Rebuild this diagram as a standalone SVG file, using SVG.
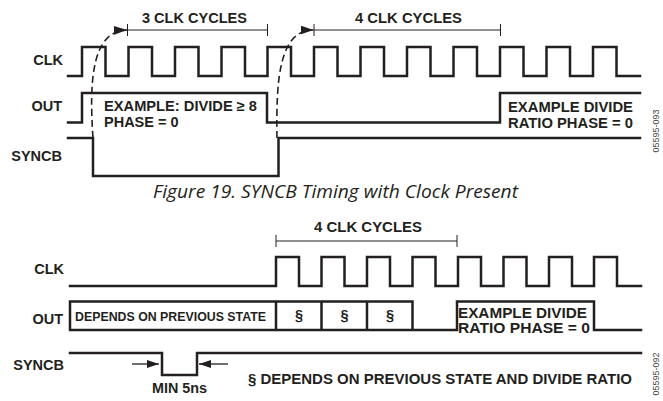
<svg xmlns="http://www.w3.org/2000/svg" width="663" height="401" viewBox="0 0 663 401">
<style>
.wave{fill:none;stroke:#231f20;stroke-width:2.5;stroke-linejoin:miter;stroke-linecap:square}
.brk{fill:none;stroke:#231f20;stroke-width:1}
.dash{fill:none;stroke:#231f20;stroke-width:1.6;stroke-dasharray:7,4}
.arr{fill:none;stroke:#231f20;stroke-width:1.3}
.t{font-family:"Liberation Sans",Arial,sans-serif;font-weight:bold;font-size:14.5px;fill:#231f20}
.cap{font-family:"Open Sans","Noto Sans",sans-serif;font-style:italic;font-size:17.5px;fill:#231f20}
.id{font-family:"Liberation Sans",Arial,sans-serif;font-size:9px;fill:#444}
</style>
<defs>
<marker id="ah" markerWidth="14" markerHeight="9" refX="13" refY="4.5" orient="auto" markerUnits="userSpaceOnUse">
<path d="M0,0 L13,4.5 L0,9 Z" fill="#231f20"/>
</marker>
<marker id="ah2" markerWidth="13" markerHeight="8" refX="12" refY="4" orient="auto" markerUnits="userSpaceOnUse">
<path d="M0,0 L12,4 L0,8 Z" fill="#231f20"/>
</marker>
</defs>

<g id="fig19">
<g id="top-clk">
<text class="t" x="63" y="65" text-anchor="end">CLK</text>
<path class="wave" d="M68,76 H82 V47 H105.5 V76 H128.5 V47 H152 V76 H175 V47 H198.5 V76 H221.5 V47 H245 V76 H267.5 V47 H291 V76 H314 V47 H337.5 V76 H360.5 V47 H384 V76 H407 V47 H430.5 V76 H453.5 V47 H477 V76 H500 V47 H523.5 V76 H546.5 V47 H570 V76 H593 V47 H616.5 V76 H640"/>
</g>
<g id="top-out">
<text class="t" x="62" y="111" text-anchor="end">OUT</text>
<path class="wave" d="M68,122.5 H82 V93 H267 V122.5 H500 V93 H640"/>
<text class="t" x="104" y="111" textLength="153" lengthAdjust="spacingAndGlyphs">EXAMPLE: DIVIDE ≥ 8</text>
<text class="t" x="104" y="127">PHASE = 0</text>
<text class="t" x="508" y="112" textLength="125" lengthAdjust="spacingAndGlyphs">EXAMPLE DIVIDE</text>
<text class="t" x="508" y="128" textLength="125" lengthAdjust="spacingAndGlyphs">RATIO PHASE = 0</text>
</g>
<g id="top-syncb">
<text class="t" x="62" y="161" text-anchor="end">SYNCB</text>
<path class="wave" d="M68,138 H93 V176 H278.5 V138 H640"/>
</g>
<g id="top-3clk">
<path class="brk" d="M127.5,30 H267.5 M127.5,24 V36 M267.5,24 V36"/>
<text class="t" x="142" y="23" textLength="105" lengthAdjust="spacingAndGlyphs">3 CLK CYCLES</text>
</g>
<g id="top-4clk">
<path class="brk" d="M314,30 H500.5 M314,24 V36 M500.5,24 V36"/>
<text class="t" x="355" y="23" textLength="107" lengthAdjust="spacingAndGlyphs">4 CLK CYCLES</text>
</g>
<g id="top-connectors">
<path class="dash" d="M93,138 C89,80 92,31 127,30" marker-end="url(#ah)"/>
<path class="dash" d="M277,138 C276,80 279,30 313.5,30" marker-end="url(#ah)"/>
</g>
<text class="id" transform="translate(659,131) rotate(-90)" text-anchor="middle">05595-093</text>
</g>

<text class="cap" x="153" y="198" textLength="365" lengthAdjust="spacingAndGlyphs">Figure 19. SYNCB Timing with Clock Present</text>

<g id="fig-bottom">
<g id="bot-4clk">
<path class="brk" d="M276,241 H457 M276,235 V247 M457,235 V247"/>
<text class="t" x="314" y="231.5" textLength="108" lengthAdjust="spacingAndGlyphs">4 CLK CYCLES</text>
</g>
<g id="bot-clk">
<text class="t" x="64" y="274" text-anchor="end">CLK</text>
<path class="wave" d="M70,286 H276 V257 H299 V286 H321.5 V257 H344.5 V286 H367 V257 H390 V286 H412.5 V257 H435.5 V286 H458 V257 H481 V286 H503.5 V257 H526.5 V286 H549 V257 H572 V286 H594 V257 H617 V286 H641"/>
</g>
<g id="bot-out">
<text class="t" x="63" y="324" text-anchor="end">OUT</text>
<path class="wave" d="M70,301.5 H412.5 V330 M70,301.5 V330 H457 V301.5 H594 V330 H641 M276,301.5 V330 M321.5,301.5 V330 M367,301.5 V330"/>
<text class="t" x="75" y="320.5" style="font-size:13px" textLength="191" lengthAdjust="spacingAndGlyphs">DEPENDS ON PREVIOUS STATE</text>
<text class="t" x="299" y="320" text-anchor="middle">§</text>
<text class="t" x="344.5" y="320" text-anchor="middle">§</text>
<text class="t" x="390" y="320" text-anchor="middle">§</text>
<text class="t" x="458" y="318" textLength="129" lengthAdjust="spacingAndGlyphs">EXAMPLE DIVIDE</text>
<text class="t" x="458" y="332.5" textLength="132" lengthAdjust="spacingAndGlyphs">RATIO PHASE = 0</text>
</g>
<g id="bot-syncb">
<text class="t" x="64" y="370" text-anchor="end">SYNCB</text>
<path class="wave" d="M70,353 H162 V375 H197 V353 H641"/>
<text class="t" x="152" y="393" textLength="55" lengthAdjust="spacingAndGlyphs">MIN 5ns</text>
</g>
<g id="bot-connectors">
<path class="arr" d="M132,364 H159" marker-end="url(#ah2)"/>
<path class="arr" d="M228,364 H199" marker-end="url(#ah2)"/>
</g>
<text class="t" x="248" y="383.5" textLength="384" lengthAdjust="spacingAndGlyphs">§ DEPENDS ON PREVIOUS STATE AND DIVIDE RATIO</text>
<text class="id" transform="translate(659,374) rotate(-90)" text-anchor="middle">05595-092</text>
</g>
</svg>
